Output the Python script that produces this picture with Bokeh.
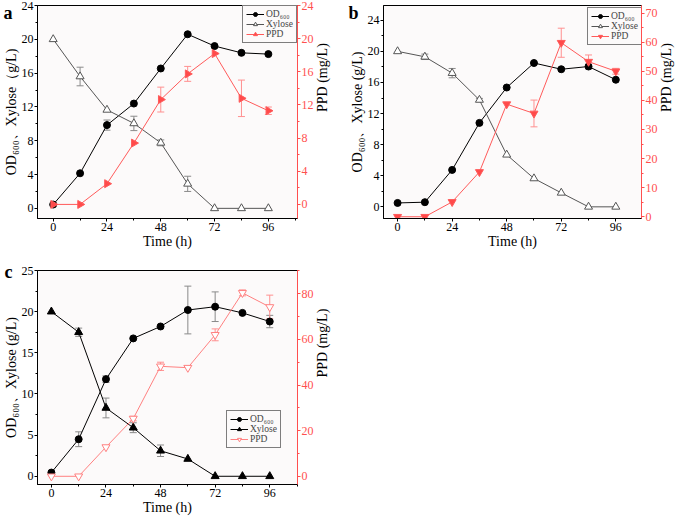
import math
from bokeh.plotting import figure
from bokeh.models import (Range1d, LinearAxis, FixedTicker, ColumnDataSource,
                          Whisker, TeeHead)
from bokeh.layouts import column, row
from bokeh.embed import file_html
from bokeh.resources import INLINE

# ---------------- data ----------------
time_h = [0, 12, 24, 36, 48, 60, 72, 84, 96]

a_od = [0.45, 4.15, 9.85, 12.4, 16.55, 20.6, 19.2, 18.4, 18.25]
a_od_err = [0, 0, 0.6, 0, 0, 0, 0, 0, 0]
a_xyl = [20.0, 15.6, 11.65, 10.05, 7.75, 2.9, 0, 0, 0]
a_xyl_err = [0, 1.1, 0, 0.85, 0.35, 0.9, 0, 0, 0]
a_ppd = [0, 0, 2.5, 7.4, 12.65, 15.75, 18.2, 12.8, 11.3]
a_ppd_err = [0, 0, 0, 0, 1.5, 0.9, 0, 2.2, 0.45]

b_od = [0.5, 0.6, 4.75, 10.8, 15.35, 18.5, 17.7, 18.05, 16.35]
b_od_err = [0, 0, 0, 0, 0, 0, 0, 0.3, 0]
b_xyl = [20.0, 19.3, 17.2, 13.75, 6.7, 3.65, 1.8, 0, 0]
b_xyl_err = [0, 0.35, 0.6, 0.2, 0, 0, 0, 0, 0]
b_ppd = [0, 0, 5.1, 15.4, 38.7, 35.5, 59.8, 53.3, 50.0]
b_ppd_err = [0, 0, 0, 0, 0, 4.6, 5.0, 2.3, 1.0]

c_od = [0.45, 4.5, 11.8, 16.75, 18.2, 20.2, 20.6, 19.85, 18.8]
c_od_err = [0, 0.9, 0.4, 0, 0, 2.9, 1.8, 0, 0.75]
c_xyl = [20.0, 17.5, 8.3, 5.9, 3.1, 2.1, 0, 0, 0]
c_xyl_err = [0, 0.5, 1.2, 0.6, 0.7, 0, 0, 0, 0]
c_ppd = [0, 0, 12.8, 25.3, 48.2, 47.6, 62.0, 80.4, 74.2]
c_ppd_err = [0, 0, 0, 1.0, 1.8, 0, 2.6, 1.3, 5.2]

x_ticks = [0, 24, 48, 72, 96]
x_minor = [12, 36, 60, 84, 108]
a_left_ticks = [0, 4, 8, 12, 16, 20, 24]
a_right_ticks = [0, 4, 8, 12, 16, 20, 24]
b_left_ticks = [0, 4, 8, 12, 16, 20, 24]
b_right_ticks = [0, 10, 20, 30, 40, 50, 60, 70]
c_left_ticks = [0, 5, 10, 15, 20, 25]
c_right_ticks = [0, 20, 40, 60, 80]

FONT = "Liberation Serif"
RED = "#ff4f4f"
FRAME_BG = "#fcfafa"


def minors(ticks):
    step = ticks[1] - ticks[0]
    return [t + step / 2 for t in ticks] + [ticks[0] - step / 2]


def style_axis(ax, color="black", label_color="black"):
    ax.axis_line_color = color
    ax.major_tick_line_color = color
    ax.minor_tick_line_color = color
    ax.major_tick_out = 3
    ax.major_tick_in = 0
    ax.minor_tick_out = 2
    ax.minor_tick_in = 0
    ax.major_label_text_font = FONT
    ax.major_label_text_font_size = "12px"
    ax.major_label_text_color = color
    ax.major_label_standoff = 1
    ax.axis_label_text_font = FONT
    ax.axis_label_text_font_size = "14px"
    ax.axis_label_text_font_style = "normal"
    ax.axis_label_text_color = label_color
    ax.axis_label_standoff = 0


def errors(vals, errs):
    xs, lo, hi = [], [], []
    for t, v, e in zip(time_h, vals, errs):
        if e > 0:
            xs.append(t)
            lo.append(v - e)
            hi.append(v + e)
    return ColumnDataSource(dict(x=xs, lower=lo, upper=hi))


def add_whisker(p, vals, errs, color, range_name="default"):
    src = errors(vals, errs)
    w = Whisker(base="x", lower="lower", upper="upper", source=src,
                line_color=color, line_width=1, y_range_name=range_name,
                upper_head=TeeHead(size=7, line_color=color, line_width=1),
                lower_head=TeeHead(size=7, line_color=color, line_width=1))
    p.add_layout(w)


def panel(letter, letter_y, width, height, borders, xr, yl, yr,
          lticks, rticks, ylabel, od, od_err, xyl, xyl_err, ppd, ppd_err,
          xyl_style, ppd_style, legend_loc):
    bl, br, bt, bb = borders
    p = figure(width=width, height=height, output_backend="svg",
               toolbar_location=None, x_range=Range1d(*xr),
               y_range=Range1d(*yl),
               min_border_left=bl, min_border_right=br,
               min_border_top=bt, min_border_bottom=bb)
    p.extra_y_ranges = {"ppd": Range1d(*yr)}
    p.xgrid.visible = False
    p.ygrid.visible = False
    p.background_fill_color = FRAME_BG
    p.border_fill_color = "white"
    p.outline_line_color = "black"
    p.outline_line_width = 1

    p.xaxis.ticker = FixedTicker(ticks=x_ticks, minor_ticks=x_minor)
    p.xaxis.axis_label = "Time (h)"
    style_axis(p.xaxis[0])
    p.yaxis.ticker = FixedTicker(ticks=lticks, minor_ticks=minors(lticks))
    p.yaxis.axis_label = ylabel
    style_axis(p.yaxis[0])

    rax = LinearAxis(y_range_name="ppd", axis_label="PPD (mg/L)",
                     ticker=FixedTicker(ticks=rticks, minor_ticks=minors(rticks)))
    style_axis(rax, color=RED, label_color="black")
    rax.axis_label_orientation = math.pi / 2
    rax.axis_label_standoff = 6
    p.add_layout(rax, "right")

    # panel letter: an outer, line-less axis carrying a single bold label
    la = LinearAxis(ticker=FixedTicker(ticks=[letter_y], minor_ticks=[]),
                    major_label_overrides={letter_y: letter})
    la.axis_line_color = None
    la.major_tick_line_color = None
    la.minor_tick_line_color = None
    la.major_tick_out = 0
    la.major_tick_in = 0
    la.minor_tick_out = 0
    la.minor_tick_in = 0
    la.major_label_standoff = -12
    la.major_label_text_font = FONT
    la.major_label_text_font_size = "18px"
    la.major_label_text_font_style = "bold"
    la.major_label_text_color = "black"
    p.add_layout(la, "left")

    # error bars
    add_whisker(p, od, od_err, "#8a8a8a")
    add_whisker(p, xyl, xyl_err, "#8a8a8a")
    add_whisker(p, ppd, ppd_err, "#ff9090", "ppd")

    # OD600
    p.line(time_h, od, line_color="black", line_width=1, legend_label="OD₆₀₀")
    p.scatter(time_h, od, marker="circle", size=7, fill_color="black",
              line_color="black", legend_label="OD₆₀₀")
    # Xylose
    p.line(time_h, xyl, line_color=xyl_style["line"], line_width=1,
           legend_label="Xylose")
    p.scatter(time_h, xyl, marker="triangle", size=8,
              fill_color=xyl_style["fill"], line_color=xyl_style["line"],
              legend_label="Xylose")
    # PPD
    p.line(time_h, ppd, line_color=ppd_style["line"], line_width=1,
           legend_label="PPD", y_range_name="ppd")
    p.scatter(time_h, ppd, marker=ppd_style["marker"], size=8,
              angle=ppd_style["angle"],
              fill_color=ppd_style["fill"], line_color=ppd_style["line"],
              legend_label="PPD", y_range_name="ppd")

    lg = p.legend[0]
    lg.location = legend_loc
    lg.margin = 0
    lg.padding = 3
    lg.spacing = 0
    lg.border_line_color = "black"
    lg.border_line_width = 1
    lg.background_fill_color = FRAME_BG
    lg.background_fill_alpha = 1
    lg.label_text_font = FONT
    lg.label_text_font_size = "9.5px"
    lg.label_height = 10
    lg.label_standoff = 2
    lg.glyph_width = 18
    lg.glyph_height = 10
    return p


pa = panel("a", 23.65, 340, 255, (36, 38, 5, 37),
           (-7, 109), (-1.2, 24), (-1.7, 24),
           a_left_ticks, a_right_ticks, "OD₆₀₀、Xylose（g/L)",
           a_od, a_od_err, a_xyl, a_xyl_err, a_ppd, a_ppd_err,
           {"line": "#555555", "fill": "white"},
           {"line": "#ff5a5a", "fill": "#ff4a4a", "marker": "triangle",
            "angle": -math.pi / 2},
           (205, 175))

pb = panel("b", 24.95, 344, 255, (43, 36, 5, 37),
           (-6.2, 107.3), (-1.5, 25.9), (-0.6, 72.6),
           b_left_ticks, b_right_ticks, "OD₆₀₀、Xylose (g/L)",
           b_od, b_od_err, b_xyl, b_xyl_err, b_ppd, b_ppd_err,
           {"line": "#555555", "fill": "white"},
           {"line": "#ff5a5a", "fill": "#ff4a4a", "marker": "inverted_triangle",
            "angle": 0},
           (204, 173))

pc = panel("c", 24.85, 340, 266, (36, 38, 15, 37),
           (-6.1, 108.2), (-1.0, 25.0), (-3.6, 90.2),
           c_left_ticks, c_right_ticks, "OD₆₀₀、Xylose (g/L)",
           c_od, c_od_err, c_xyl, c_xyl_err, c_ppd, c_ppd_err,
           {"line": "black", "fill": "black"},
           {"line": "#ff8080", "fill": "white", "marker": "inverted_triangle",
            "angle": 0},
           (189, 36))

layout = column(row(pa, pb), pc)
open("out.html", "w").write(file_html(layout, INLINE))
